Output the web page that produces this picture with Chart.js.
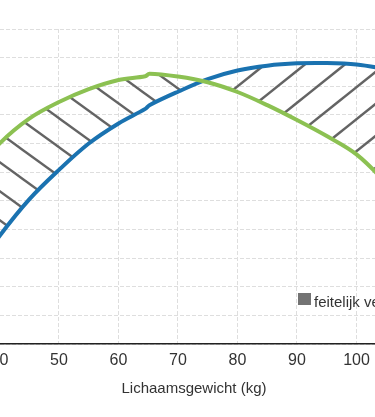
<!DOCTYPE html>
<html><head><meta charset="utf-8">
<script src="https://cdn.jsdelivr.net/npm/chart.js@4"></script>
<style>
html,body{margin:0;padding:0;background:#fff;overflow:hidden;width:375px;height:417px;}
#wrap{position:absolute;left:-60px;top:0;width:508px;height:417px;}
</style></head><body>
<div id="wrap"><canvas id="c"></canvas></div>
<script>
// Data
const weights     = [35, 40, 45, 50, 55, 60, 64.5, 65.2, 70, 75, 80, 85, 90, 95, 100, 105, 110, 115];
const greenSeries = [58, 70.0, 78.7, 84.5, 89.0, 92.2, 93.5, 94.4, 93.4, 91.4, 88.0, 83.4, 78.2, 72.6, 66.2, 56.2, 45, 33];
const blueSeries  = [23, 37.7, 50.5, 60.8, 70.0, 77.0, 82.1, 83.4, 88.1, 92.5, 95.5, 97.2, 98.0, 98.1, 97.6, 96.0, 94.3, 92.0];
const xTicks = [40, 50, 60, 70, 80, 90, 100, 110];
const yTicks = [0, 10, 20, 30, 40, 50, 60, 70, 80, 90, 100, 110];
const axisTitle = 'Lichaamsgewicht (kg)';
const legendLabel = 'feitelijk verschil';

const FONT = '"Liberation Sans", Arial, Helvetica, sans-serif';
const GREEN = '#8cc152', BLUE = '#1a72b0', HATCH = '#646464', GRID = '#dedede';

function hatch(w, h, dir, shift) {
  const c = document.createElement('canvas');
  c.width = w; c.height = h;
  const g = c.getContext('2d');
  g.strokeStyle = HATCH; g.lineWidth = 2.4;
  for (let k = -3; k <= 3; k++) {
    const x0 = k * w + shift;
    g.beginPath();
    if (dir === 'back') { g.moveTo(x0 - w, -h); g.lineTo(x0 + 2 * w, 2 * h); }
    else { g.moveTo(x0 - w, 2 * h); g.lineTo(x0 + 2 * w, -h); }
    g.stroke();
  }
  return g.createPattern(c, 'repeat');
}
const hatchBack = hatch(40, 29, 'back', 36);
const hatchFwd = hatch(40, 32, 'fwd', 5.5);

const legendPlugin = {
  id: 'hatchLegend',
  afterDraw(chart) {
    const {ctx, scales: {x, y}} = chart;
    const px = x.getPixelForValue(90) + 1;
    const py = y.getPixelForValue(0) - 51;
    ctx.save();
    ctx.fillStyle = '#737373';
    ctx.fillRect(px, py, 13, 12);
    ctx.fillStyle = '#333';
    ctx.font = '15px ' + FONT;
    ctx.textBaseline = 'alphabetic';
    ctx.textAlign = 'left';
    ctx.fillText(legendLabel, px + 16, py + 13.5);
    ctx.restore();
  }
};

new Chart(document.getElementById('c'), {
  type: 'line',
  data: {
    datasets: [
      { label: 'groen', data: weights.map((w, i) => ({x: w, y: greenSeries[i]})),
        borderColor: GREEN, borderWidth: 4, pointRadius: 0, tension: 0.35,
        fill: {target: '+1', above: hatchBack, below: hatchFwd} },
      { label: 'blauw', data: weights.map((w, i) => ({x: w, y: blueSeries[i]})),
        borderColor: BLUE, borderWidth: 4, pointRadius: 0, tension: 0.35,
        fill: false }
    ]
  },
  options: {
    responsive: true, maintainAspectRatio: false, animation: false,
    layout: {padding: {top: 29, left: 0, right: 0, bottom: 0}},
    plugins: {legend: {display: false}, tooltip: {enabled: false}, filler: {drawTime: 'beforeDatasetsDraw'}},
    scales: {
      x: {
        type: 'linear', min: 30, max: 115.38,
        afterBuildTicks: s => { s.ticks = xTicks.map(v => ({value: v})); },
        afterFit: s => { s.height = 73; },
        grid: {color: GRID, lineWidth: 1, drawTicks: false},
        border: {display: true, color: '#222', width: 1.5, dash: [4, 2]},
        ticks: {color: '#333', font: {family: FONT, size: 16}, padding: 7, maxRotation: 0},
        title: {display: true, text: axisTitle, color: '#333', font: {family: FONT, size: 15}, padding: {top: 0, bottom: 19}}
      },
      y: {
        min: 0, max: 110,
        afterBuildTicks: s => { s.ticks = yTicks.map(v => ({value: v})); },
        afterFit: s => { s.width = 0; },
        grid: {color: GRID, lineWidth: 1, drawTicks: false},
        border: {display: false, dash: [4, 2]},
        ticks: {display: false}
      }
    }
  },
  plugins: [legendPlugin]
});
</script>
</body></html>
